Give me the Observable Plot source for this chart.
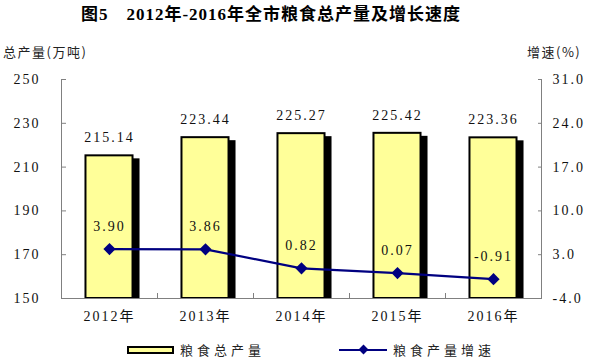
<!DOCTYPE html>
<html><head><meta charset="utf-8">
<script src="https://cdn.jsdelivr.net/npm/d3@7"></script>
<script src="https://cdn.jsdelivr.net/npm/@observablehq/plot@0.6"></script>
<style>
body{margin:0;background:#fff;}
#wrap{position:relative;width:595px;height:361px;font-family:"Liberation Serif","Noto Sans CJK SC",serif;color:#000;overflow:hidden;}
#title{position:absolute;left:0;top:0;width:542px;text-align:center;font-weight:bold;font-size:17px;letter-spacing:1px;line-height:30px;font-family:"Liberation Serif","Noto Sans CJK SC",serif;}
#chart{position:absolute;left:0;top:30px;}
#chart svg text{letter-spacing:2px;}
.lab{position:absolute;font-size:13px;line-height:16px;white-space:nowrap;font-family:"Noto Sans CJK SC",sans-serif;color:#222;}
.ax{letter-spacing:1.5px;}
.leg{letter-spacing:4px;}
</style>
</head><body>
<div id="wrap">
  <div id="title">图5　2012年-2016年全市粮食总产量及增长速度</div>
  <div id="chart"></div>
  <span class="lab ax" style="left:3px;top:44px;">总产量(万吨)</span>
  <span class="lab ax" style="left:527px;top:44px;">增速(%)</span>
  <div style="position:absolute;left:127px;top:346px;width:43px;height:4px;background:#ffff99;border:2px solid #000;"></div>
  <span class="lab leg" style="left:180px;top:342px;">粮食总产量</span>
  <div style="position:absolute;left:339px;top:349px;width:48px;height:2px;background:#000080;"></div>
  <div style="position:absolute;left:360px;top:346px;width:7px;height:7px;background:#000080;transform:rotate(45deg);"></div>
  <span class="lab leg" style="left:393px;top:342px;">粮食产量增速</span>
</div>
<script>
const years = [2012, 2013, 2014, 2015, 2016];
const production = [215.14, 223.44, 225.27, 225.42, 223.36];
const growth = [3.90, 3.86, 0.82, 0.07, -0.91];
const leftTicks = [150, 170, 190, 210, 230, 250];
const rightTicks = [-4, 3, 10, 17, 24, 31];

const pMin = leftTicks[0], pMax = leftTicks[leftTicks.length - 1];
const gMin = rightTicks[0], gMax = rightTicks[rightTicks.length - 1];
const g2y = g => pMin + (g - gMin) * (pMax - pMin) / (gMax - gMin);
const y2g = y => gMin + (y - pMin) * (gMax - gMin) / (pMax - pMin);
const data = years.map((year, i) => ({year, prod: production[i], g: growth[i]}));
const halfBar = 0.245;
const bounds = [years[0] - 0.5, ...years.map(y => y + 0.5)];
const axisColor = "#808080";

const chart = Plot.plot({
  width: 595, height: 300,
  marginTop: 49, marginBottom: 32, marginLeft: 61, marginRight: 54,
  style: {fontFamily: '"Liberation Serif","Noto Sans CJK SC",serif', fontSize: "14px", color: "#111", background: "transparent"},
  x: {domain: [years[0] - 0.5, years[years.length - 1] + 0.5], label: null},
  y: {domain: [pMin, pMax], label: null},
  marks: [
    Plot.rect(data, {x1: d => d.year - halfBar, x2: d => d.year + halfBar, y1: pMin, y2: "prod", fill: "#000", dx: 7, dy: 3, clip: true}),
    Plot.rect(data, {x1: d => d.year - halfBar, x2: d => d.year + halfBar, y1: pMin, y2: "prod", fill: "#ffff99", stroke: "#000", strokeWidth: 2}),
    Plot.ruleY([pMin], {stroke: axisColor}),
    Plot.ruleX([bounds[0], bounds[bounds.length - 1]], {stroke: axisColor}),
    Plot.axisY({ticks: leftTicks, tickSize: -5, fill: "none", stroke: axisColor, label: null}),
    Plot.axisY({ticks: leftTicks, tickSize: 0, tickPadding: 21, tickFormat: d => String(d), label: null}),
    Plot.axisY({anchor: "right", ticks: rightTicks.map(g2y), tickSize: -4, fill: "none", stroke: axisColor, label: null}),
    Plot.axisY({anchor: "right", ticks: rightTicks.map(g2y), tickSize: 0, tickPadding: 11, tickFormat: v => y2g(v).toFixed(1), label: null}),
    Plot.axisX({ticks: bounds, tickSize: -5, fill: "none", stroke: axisColor, label: null}),
    Plot.axisX({ticks: years, tickSize: 0, tickPadding: 13, tickFormat: d => d + "年", label: null}),
    Plot.line(data, {x: "year", y: d => g2y(d.g), stroke: "#000080", strokeWidth: 2.2}),
    Plot.dot(data, {x: "year", y: d => g2y(d.g), symbol: "diamond2", r: 5.5, fill: "#000080"}),
    Plot.text(data, {x: "year", y: "prod", text: d => d.prod.toFixed(2), dy: -18}),
    Plot.text(data, {x: "year", y: d => g2y(d.g), text: d => d.g.toFixed(2), dy: -23})
  ]
});
document.getElementById("chart").appendChild(chart);
</script>
</body></html>
